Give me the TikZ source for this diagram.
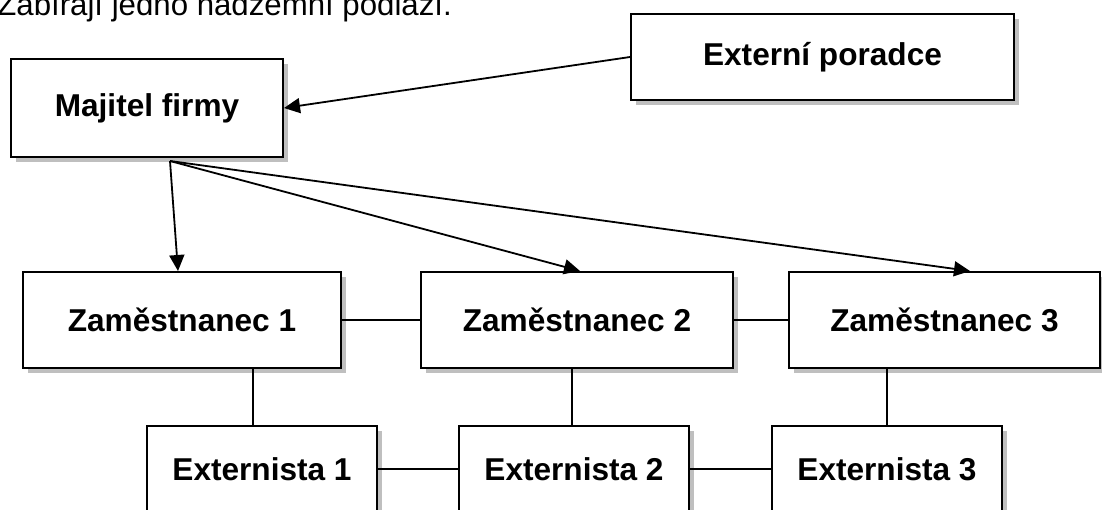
\documentclass[tikz,border=0pt]{standalone}
\usepackage{fontspec}
\setmainfont{Liberation Sans}
\usetikzlibrary{arrows.meta,shadows}

\begin{document}
\begin{tikzpicture}[x=0.5pt,y=-0.5pt,
  box/.style={draw=black, line width=1pt, fill=white, font=\fontsize{15.8}{18}\selectfont\bfseries,
    drop shadow={shadow xshift=2.5pt, shadow yshift=-2.5pt, fill=black, opacity=0.25},
    inner sep=0pt, minimum height=48pt},
  link/.style={black, line width=0.9pt},
  arr/.style={link, -{Triangle[length=8pt,width=7.5pt]}}]

\useasboundingbox (0,0) rectangle (1102,509);
\clip (0,0) rectangle (1102,509);

\node[anchor=base west, inner sep=0pt, font=\fontsize{15.6}{18}\selectfont] (intro) at (-3,15) {Zabírají jedno nadzemní podlaží.};

\node[box, minimum width=136pt, minimum height=49pt] (majitel) at (147,108) {Majitel firmy};
\node[box, minimum width=191.5pt, minimum height=43pt] (poradce) at (822.5,57) {Externí poradce};

\node[box, minimum width=159pt] (zam1) at (182,320) {Zaměstnanec 1};
\node[box, minimum width=156pt] (zam2) at (577,320) {Zaměstnanec 2};
\node[box, minimum width=155.5pt] (zam3) at (944.5,320) {Zaměstnanec 3};

\node[box, minimum width=115pt, minimum height=43pt] (ext1) at (262,469) {Externista 1};
\node[box, minimum width=115pt, minimum height=43pt] (ext2) at (574,469) {Externista 2};
\node[box, minimum width=115pt, minimum height=43pt] (ext3) at (887,469) {Externista 3};

\coordinate (split) at ([xshift=11.5pt,yshift=-1.5pt]majitel.south);

\draw[arr] (poradce.west) -- (majitel.east);
\draw[arr] (split) -- ([xshift=-2pt]zam1.north);
\draw[arr] (split) -- ([xshift=1.5pt]zam2.north);
\draw[arr] (split) -- ([xshift=12.75pt]zam3.north);

\draw[link] (zam1.east) -- (zam2.west);
\draw[link] (zam2.east) -- (zam3.west);
\draw[link] (ext1.east) -- (ext2.west);
\draw[link] (ext2.east) -- (ext3.west);

\draw[link] ([xshift=-4.5pt]ext1.north) -- ([xshift=-4.5pt]ext1.north |- zam1.south);
\draw[link] ([xshift=-1pt]ext2.north) -- ([xshift=-1pt]ext2.north |- zam2.south);
\draw[link] (ext3.north) -- (ext3.north |- zam3.south);
\end{tikzpicture}
\end{document}
